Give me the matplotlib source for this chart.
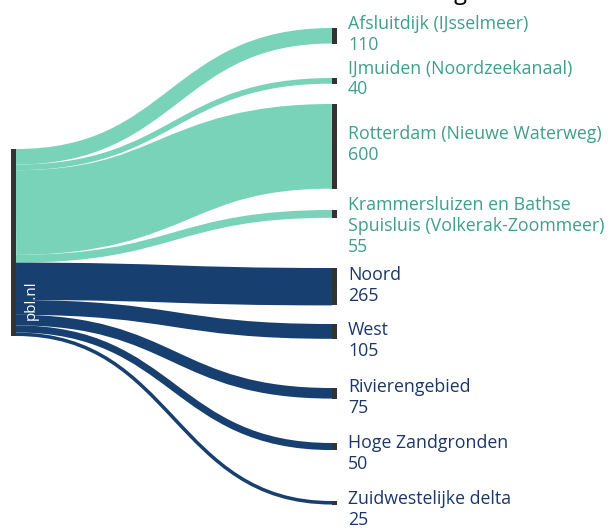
import numpy as np
import matplotlib.pyplot as plt
from matplotlib.path import Path
from matplotlib.patches import PathPatch, Rectangle

# flows from the single source node to each outlet / region
targets = ['Afsluitdijk (IJsselmeer)', 'IJmuiden (Noordzeekanaal)',
           'Rotterdam (Nieuwe Waterweg)',
           'Krammersluizen en Bathse\nSpuisluis (Volkerak-Zoommeer)',
           'Noord', 'West', 'Rivierengebied', 'Hoge Zandgronden',
           'Zuidwestelijke delta']
values = [110, 40, 600, 55, 265, 105, 75, 50, 25]
groups = ['sea', 'sea', 'sea', 'sea', 'land', 'land', 'land', 'land', 'land']

# layout (pixel units, y downwards)
W, H = 611, 528
left_x0, left_x1 = 11, 16
right_x0, right_x1 = 332, 337
left_top = 149
px_per_unit = 187 / 1325
right_tops = [28, 78, 104, 210, 268, 324, 388, 443, 501]
label_shift = [-1.5, -2, -2, 12, -1.5, 9, 4, 7, 6.5]

flow_col = {'sea': '#79d3b9', 'land': '#173f6f'}
text_col = {'sea': '#3f9e8c', 'land': '#1a3768'}
node_col = '#333333'

plt.rcParams['font.family'] = ['Open Sans', 'DejaVu Sans']

fig = plt.figure(figsize=(W / 100, H / 100), dpi=100)
ax = fig.add_axes([0, 0, 1, 1])
ax.set_xlim(0, W)
ax.set_ylim(H, 0)
ax.axis('off')

def link(xa, ya, xb, yb):
    # centre line of a link, stroked with the link width
    xm = (xa + xb) / 2
    verts = [(xa, ya), (xm, ya), (xm, yb), (xb, yb)]
    codes = [Path.MOVETO, Path.CURVE4, Path.CURVE4, Path.CURVE4]
    return Path(verts, codes)

y_left = left_top
for name, v, g, yt, sh in zip(targets, values, groups, right_tops, label_shift):
    h = v * px_per_unit
    p = link(left_x1, y_left + h / 2, right_x0, yt + h / 2)
    ax.add_patch(PathPatch(p, facecolor='none', edgecolor=flow_col[g],
                           lw=h * 0.72, capstyle='butt', zorder=1))
    # target node
    ax.add_patch(Rectangle((right_x0, yt), right_x1 - right_x0, h,
                           color=node_col, lw=0, zorder=3))
    ax.text(348, yt + h / 2 + sh, f'{name}\n{v}', color=text_col[g],
            fontsize=12.8, va='center', ha='left', linespacing=1.2)
    y_left += h

# source node
ax.add_patch(Rectangle((left_x0, left_top), left_x1 - left_x0,
                       y_left - left_top, color=node_col, lw=0, zorder=3))
ax.text(31, 300, 'pbl.nl', color='white', fontsize=11, rotation=90,
        ha='center', va='center', zorder=4)

# header, mostly above the visible area
ax.text(348, -1, 'Afwatering', color='black', fontsize=17,
        ha='left', va='baseline')

fig.savefig('out.png', dpi=100)
